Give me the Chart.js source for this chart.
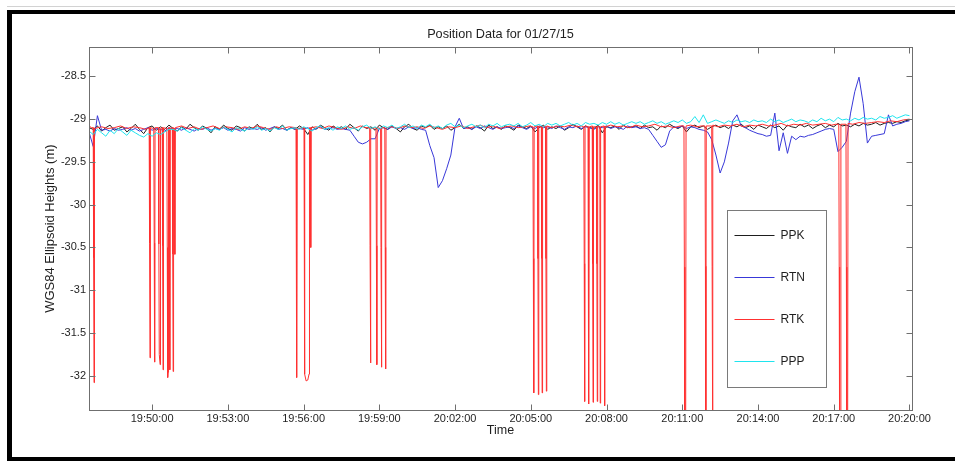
<!DOCTYPE html>
<html>
<head>
<meta charset="utf-8">
<script src="https://cdn.jsdelivr.net/npm/chart.js@4.4.1/dist/chart.umd.min.js"></script>
<style>
html,body{margin:0;padding:0;background:#fff;overflow:hidden}
#wrap{width:955px;height:461px;position:relative}
</style>
</head>
<body>
<div id="wrap"><canvas id="c"></canvas></div>
<script>
const chartTitle = 'Position Data for 01/27/15';
const xAxisTitle = 'Time';
const yAxisTitle = 'WGS84 Ellipsoid Heights (m)';
const seriesNames = ['PPK', 'RTN', 'RTK', 'PPP'];

// x ticks (seconds after midnight) and their labels
const xTickValues = [71400, 71580, 71760, 71940, 72120, 72300, 72480, 72660, 72840, 73020, 73200];
const xTickLabels = ['19:50:00','19:53:00','19:56:00','19:59:00','20:02:00','20:05:00','20:08:00','20:11:00','20:14:00','20:17:00','20:20:00'];
const yTickValues = [-32, -31.5, -31, -30.5, -30, -29.5, -29, -28.5];
const yTickLabels = ['-32','-31.5','-31','-30.5','-30','-29.5','-29','-28.5'];

// PPK / RTN / PPP sampled every 10 s starting 19:47:30 (71250 s after midnight)
const sampleStart = 71250;
const sampleStep = 10;

const ppkHeights = [
-29.10,-29.12,-29.08,-29.14,-29.10,-29.07,-29.13,-29.11,-29.09,-29.15,
-29.11,-29.06,-29.12,-29.17,-29.10,-29.08,-29.13,-29.09,-29.12,-29.07,
-29.11,-29.14,-29.09,-29.12,-29.06,-29.10,-29.13,-29.08,-29.11,-29.16,
-29.09,-29.12,-29.07,-29.11,-29.13,-29.08,-29.10,-29.14,-29.09,-29.11,
-29.06,-29.12,-29.10,-29.15,-29.09,-29.11,-29.07,-29.13,-29.10,-29.12,
-29.08,-29.11,-29.18,-29.09,-29.12,-29.07,-29.10,-29.13,-29.08,-29.11,
-29.09,-29.12,-29.06,-29.10,-29.14,-29.08,-29.11,-29.09,-29.13,-29.07,
-29.10,-29.12,-29.08,-29.11,-29.15,-29.09,-29.06,-29.11,-29.13,-29.08,
-29.10,-29.07,-29.12,-29.09,-29.11,-29.08,-29.13,-29.10,-29.06,-29.11,
-29.09,-29.12,-29.08,-29.10,-29.14,-29.07,-29.11,-29.09,-29.12,-29.08,
-29.10,-29.13,-29.07,-29.09,-29.11,-29.08,-29.15,-29.10,-29.07,-29.12,
-29.09,-29.11,-29.08,-29.13,-29.10,-29.06,-29.09,-29.12,-29.08,-29.10,
-29.11,-29.07,-29.16,-29.09,-29.10,-29.08,-29.12,-29.07,-29.10,-29.09,
-29.08,-29.11,-29.07,-29.10,-29.09,-29.13,-29.08,-29.10,-29.06,-29.09,
-29.11,-29.08,-29.15,-29.09,-29.07,-29.10,-29.08,-29.12,-29.09,-29.07,
-29.10,-29.08,-29.11,-29.07,-29.09,-29.06,-29.10,-29.08,-29.12,-29.07,
-29.09,-29.11,-29.07,-29.10,-29.08,-29.13,-29.07,-29.09,-29.10,-29.06,
-29.09,-29.07,-29.11,-29.08,-29.06,-29.10,-29.07,-29.09,-29.05,-29.08,
-29.07,-29.09,-29.06,-29.08,-29.05,-29.07,-29.06,-29.04,-29.07,-29.05,
-29.04,-29.05,-29.03,-29.04,-29.02,-29.01
];

const rtnHeights = [
-29.15,-29.32,-28.96,-29.13,-29.12,-29.14,-29.11,-29.13,-29.12,-29.10,
-29.13,-29.11,-29.14,-29.12,-29.10,-29.13,-29.11,-29.12,-29.14,-29.10,
-29.12,-29.11,-29.13,-29.10,-29.12,-29.14,-29.11,-29.12,-29.10,-29.13,
-29.11,-29.12,-29.10,-29.13,-29.11,-29.12,-29.14,-29.10,-29.12,-29.11,
-29.12,-29.10,-29.13,-29.11,-29.09,-29.12,-29.11,-29.13,-29.10,-29.12,
-29.11,-29.12,-29.10,-29.13,-29.11,-29.09,-29.12,-29.11,-29.10,-29.12,
-29.11,-29.12,-29.13,-29.20,-29.27,-29.29,-29.27,-29.23,-29.23,-29.11,
-29.10,-29.12,-29.09,-29.11,-29.10,-29.12,-29.09,-29.11,-29.10,-29.12,
-29.13,-29.31,-29.45,-29.80,-29.72,-29.58,-29.42,-29.09,-28.99,-29.11,
-29.10,-29.12,-29.09,-29.11,-29.08,-29.10,-29.12,-29.09,-29.11,-29.10,
-29.09,-29.11,-29.08,-29.10,-29.12,-29.09,-29.11,-29.08,-29.10,-29.09,
-29.11,-29.08,-29.10,-29.12,-29.09,-29.10,-29.08,-29.11,-29.09,-29.10,
-29.12,-29.09,-29.10,-29.08,-29.11,-29.09,-29.10,-29.12,-29.08,-29.10,
-29.09,-29.11,-29.10,-29.12,-29.19,-29.26,-29.33,-29.30,-29.14,-29.09,
-29.10,-29.08,-29.11,-29.09,-29.10,-29.12,-29.13,-29.15,-29.24,-29.42,
-29.63,-29.50,-29.28,-29.02,-28.95,-29.08,-29.10,-29.13,-29.15,-29.17,
-29.18,-29.20,-29.19,-28.93,-29.37,-29.16,-29.40,-29.20,-29.24,-29.20,
-29.21,-29.19,-29.18,-29.16,-29.14,-29.12,-29.11,-29.12,-29.38,-29.33,
-29.26,-28.93,-28.68,-28.51,-28.82,-29.28,-29.20,-29.19,-29.18,-29.17,
-28.95,-29.08,-29.06,-29.05,-29.03,-29.02
];

const pppHeights = [
-29.14,-29.18,-29.12,-29.16,-29.20,-29.13,-29.17,-29.11,-29.15,-29.19,
-29.13,-29.16,-29.19,-29.21,-29.17,-29.20,-29.16,-29.18,-29.15,-29.12,
-29.12,-29.14,-29.10,-29.13,-29.16,-29.11,-29.13,-29.09,-29.12,-29.14,
-29.11,-29.13,-29.09,-29.12,-29.15,-29.10,-29.12,-29.14,-29.10,-29.12,
-29.09,-29.13,-29.11,-29.14,-29.10,-29.12,-29.08,-29.13,-29.11,-29.10,
-29.12,-29.09,-29.11,-29.14,-29.10,-29.08,-29.12,-29.10,-29.13,-29.09,
-29.11,-29.08,-29.12,-29.10,-29.13,-29.09,-29.07,-29.11,-29.09,-29.12,
-29.08,-29.10,-29.07,-29.11,-29.09,-29.06,-29.10,-29.08,-29.11,-29.07,
-29.09,-29.06,-29.10,-29.08,-29.11,-29.07,-29.05,-29.09,-29.07,-29.10,
-29.08,-29.06,-29.09,-29.07,-29.10,-29.06,-29.08,-29.05,-29.09,-29.07,
-29.06,-29.08,-29.05,-29.09,-29.07,-29.04,-29.08,-29.06,-29.09,-29.05,
-29.07,-29.05,-29.08,-29.06,-29.04,-29.07,-29.05,-29.08,-29.04,-29.06,
-29.05,-29.07,-29.04,-29.06,-29.03,-29.06,-29.04,-29.07,-29.05,-29.03,
-29.05,-29.03,-29.06,-29.04,-29.02,-29.05,-29.03,-29.06,-29.04,-29.02,
-29.04,-29.01,-29.05,-29.03,-28.97,-29.04,-28.95,-29.05,-29.03,-29.01,
-29.03,-29.05,-29.02,-29.04,-29.01,-29.03,-29.02,-29.04,-29.01,-29.03,
-29.02,-29.04,-29.00,-29.03,-29.01,-29.04,-29.02,-29.00,-29.03,-29.01,
-29.02,-29.04,-29.01,-29.03,-28.99,-29.02,-29.00,-29.03,-28.98,-29.01,
-29.00,-29.02,-28.99,-29.01,-28.98,-29.00,-28.99,-29.01,-28.97,-28.99,
-28.98,-28.96,-28.99,-28.97,-28.95,-28.96
];

// RTK: irregular epochs (seconds after midnight) including the fix-loss drops
const rtkTimes = [
71250,71256,71260,71261,71262,71263,71280,71295,71310,71325,71340,71355,71370,71385,
71393,71394,71395,71396, 71404,71405,71406,71407, 71415,71416,71417,71419,71420,
71424,71425,71426,71427, 71435,71436,71437,71438,71439, 71441,71442,71443,
71448,71449,71450,71451, 71453,71454,71455,
71470,71485,71500,71515,71530,71545,71560,71575,71590,71605,71620,71635,71650,71665,71680,71695,71710,71725,
71742,71743,71744,71745, 71761,71762,71763,71766,71770,71773,71774, 71776,71777,71778,
71790,71805,71820,71835,71850,71865,71880,71895,71908,
71917,71918,71919,71920, 71932,71933,71934,71935, 71943,71944,71945,71946, 71953,71954,71955,71956,
71970,71985,72000,72015,72030,72045,72060,72075,72090,72105,72120,72135,72150,72165,72180,72195,72210,72225,72240,72255,72270,72285,72297,
72305,72306,72307,72308, 72316,72317,72318,72319, 72325,72326,72327,72328, 72335,72336,72337,72338,
72350,72365,72380,72395,72410,72420,
72426,72427,72428,72429, 72436,72437,72438,72439, 72446,72447,72448,72449, 72456,72457,72458,72459,
72464,72465,72466, 72474,72475,72476,72477,
72490,72505,72520,72535,72550,72565,72580,72595,72610,72625,72640,72655,
72664,72665,72666,72668,72669,
72680,72695,72705,
72714,72715,72716,72717, 72730,72731,72732,72733,
72745,72760,72775,72790,72805,72820,72835,72850,72865,72880,72895,72910,72925,72940,72955,72970,72985,73000,73015,73025,
73032,73033,73034,73036,73037, 73049,73050,73051,73053,73054,
73065,73080,73095,73110,73125,73140,73155,73170,73185,73200
];
const rtkHeights = [
-29.08,-29.10,-29.10,-30.62,-32.08,-29.11,-29.09,-29.11,-29.10,-29.08,-29.11,-29.09,-29.10,-29.12,
-29.10,-30.45,-31.79,-29.10, -29.11,-30.45,-31.84,-29.10, -29.10,-30.46,-31.75,-31.87,-29.11,
-29.10,-30.48,-31.93,-29.10, -29.11,-30.50,-32.02,-31.96,-29.10, -29.10,-31.93,-29.11,
-29.10,-30.58,-31.95,-29.10, -29.11,-30.58,-29.10,
-29.08,-29.11,-29.09,-29.12,-29.10,-29.08,-29.11,-29.09,-29.10,-29.12,-29.09,-29.11,-29.08,-29.10,-29.12,-29.09,-29.11,-29.09,
-29.10,-30.52,-32.02,-29.11, -29.10,-30.50,-31.98,-32.06,-32.05,-31.98,-29.10, -29.10,-30.50,-29.10,
-29.09,-29.11,-29.08,-29.10,-29.12,-29.09,-29.11,-29.08,-29.10,
-29.10,-30.48,-31.85,-29.11, -29.10,-30.48,-31.87,-29.10, -29.11,-30.50,-31.90,-29.10, -29.10,-30.50,-31.92,-29.10,
-29.09,-29.11,-29.08,-29.10,-29.09,-29.11,-29.08,-29.10,-29.12,-29.09,-29.10,-29.08,-29.11,-29.09,-29.07,-29.10,-29.08,-29.11,-29.09,-29.08,-29.10,-29.09,-29.08,
-29.09,-30.63,-32.20,-29.09, -29.08,-30.63,-32.22,-29.09, -29.09,-30.63,-32.20,-29.08, -29.09,-30.63,-32.18,-29.08,
-29.10,-29.08,-29.09,-29.07,-29.09,-29.08,
-29.09,-30.69,-32.30,-29.08, -29.09,-30.69,-32.33,-29.09, -29.08,-30.69,-32.31,-29.09, -29.09,-30.69,-32.30,-29.08,
-29.09,-32.32,-29.09, -29.08,-30.70,-32.35,-29.09,
-29.07,-29.09,-29.08,-29.10,-29.07,-29.09,-29.08,-29.06,-29.09,-29.08,-29.10,-29.08,
-29.08,-30.73,-33.00,-33.00,-29.08,
-29.07,-29.09,-29.08,
-29.08,-30.72,-33.00,-29.08, -29.08,-30.72,-33.00,-29.07,
-29.09,-29.07,-29.08,-29.06,-29.09,-29.07,-29.08,-29.06,-29.08,-29.07,-29.05,-29.08,-29.06,-29.07,-29.05,-29.07,-29.06,-29.05,-29.07,-29.06,
-29.06,-30.73,-33.00,-33.00,-29.06, -29.06,-30.73,-33.00,-33.00,-29.05,
-29.06,-29.04,-29.05,-29.04,-29.03,-29.04,-29.02,-29.03,-29.01,-29.00
];

const seriesColors = ['#1e1e1e', '#3838d8', '#ff3030', '#1fe4ee'];

const sampleTimes = ppkHeights.map((_, i) => sampleStart + i * sampleStep);
const toPoints = (times, vals) => vals.map((v, i) => ({x: times[i], y: v}));

const seriesData = [
  toPoints(sampleTimes, ppkHeights),
  toPoints(sampleTimes, rtnHeights),
  toPoints(rtkTimes, rtkHeights),
  toPoints(sampleTimes, pppHeights)
];
const drawOrder = [4, 3, 2, 1];

const FONT = "'Liberation Sans', Arial, Helvetica, sans-serif";
const TEXT = '#1f1f1f';
const AXIS = '#6f6f6f';

const framePlugin = {
  id: 'matlabFrame',
  beforeDraw(chart) {
    const ctx = chart.ctx, W = chart.width, H = chart.height;
    ctx.save();
    ctx.fillStyle = '#ffffff';
    ctx.fillRect(0, 0, W, H);
    ctx.fillStyle = '#d2d2d2';
    ctx.fillRect(7, 6, W - 7, 1);
    ctx.fillStyle = '#000000';
    ctx.fillRect(7, 10, W - 7, 4);
    ctx.fillRect(7, 10, 5, H - 10);
    ctx.fillRect(7, H - 4, W - 7, 4);
    ctx.restore();
  },
  afterDatasetsDraw(chart) {
    const {ctx, chartArea: a, scales: {x, y}} = chart;
    const L = Math.round(a.left) + 0.5, R = Math.round(a.right) + 0.5;
    const T = Math.round(a.top) + 0.5, B = Math.round(a.bottom) + 0.5;
    ctx.save();
    ctx.strokeStyle = AXIS;
    ctx.lineWidth = 1;
    ctx.strokeRect(L, T, R - L, B - T);
    ctx.beginPath();
    x.ticks.forEach(t => {
      const px = Math.round(x.getPixelForValue(t.value)) + 0.5;
      ctx.moveTo(px, B); ctx.lineTo(px, B - 6);
      ctx.moveTo(px, T); ctx.lineTo(px, T + 6);
    });
    y.ticks.forEach(t => {
      const py = Math.round(y.getPixelForValue(t.value)) + 0.5;
      ctx.moveTo(L, py); ctx.lineTo(L + 6, py);
      ctx.moveTo(R, py); ctx.lineTo(R - 6, py);
    });
    ctx.stroke();

    // legend box inside the axes
    const lw = 99, lh = 177;
    const lx = Math.round(a.right) - 185 + 0.5, ly = Math.round(a.top) + 163 + 0.5;
    ctx.fillStyle = '#ffffff';
    ctx.fillRect(lx, ly, lw, lh);
    ctx.strokeStyle = '#7a7a7a';
    ctx.strokeRect(lx, ly, lw, lh);
    ctx.font = '12px ' + FONT;
    ctx.textBaseline = 'middle';
    ctx.textAlign = 'left';
    seriesNames.forEach((name, i) => {
      const yy = Math.floor(ly + 25 + i * 42) + 0.5;
      ctx.beginPath();
      ctx.strokeStyle = seriesColors[i];
      ctx.lineWidth = 1;
      ctx.moveTo(lx + 7, yy);
      ctx.lineTo(lx + 47, yy);
      ctx.stroke();
      ctx.fillStyle = TEXT;
      ctx.fillText(name, lx + 53, yy);
    });
    ctx.restore();
  }
};

new Chart(document.getElementById('c'), {
  type: 'line',
  data: {
    datasets: seriesNames.map((name, i) => ({
      label: name,
      data: seriesData[i],
      borderColor: seriesColors[i],
      backgroundColor: seriesColors[i],
      borderWidth: 1,
      pointRadius: 0,
      tension: 0,
      fill: false,
      order: drawOrder[i]
    }))
  },
  options: {
    responsive: true,
    maintainAspectRatio: false,
    animation: false,
    events: [],
    layout: {padding: {left: 36, right: 43, top: 0, bottom: 21}},
    plugins: {
      legend: {display: false},
      tooltip: {enabled: false},
      title: {
        display: true,
        text: chartTitle,
        fullSize: false,
        color: TEXT,
        font: {family: FONT, size: 12.7, weight: 'normal', lineHeight: 1.2},
        padding: {top: 27, bottom: 5}
      }
    },
    scales: {
      x: {
        type: 'linear',
        min: 71250,
        max: 73206,
        afterBuildTicks: s => { s.ticks = xTickValues.map(v => ({value: v})); },
        afterFit: s => { s.height = 30; },
        grid: {display: false, drawTicks: false, tickLength: 0},
        border: {display: false},
        ticks: {
          autoSkip: false,
          maxRotation: 0,
          padding: 2,
          color: TEXT,
          font: {family: FONT, size: 11},
          callback: v => xTickLabels[xTickValues.indexOf(v)]
        },
        title: {
          display: true,
          text: xAxisTitle,
          color: TEXT,
          font: {family: FONT, size: 12.5, lineHeight: 1.2},
          padding: {top: 0, bottom: 2}
        }
      },
      y: {
        type: 'linear',
        min: -32.4,
        max: -28.16,
        afterBuildTicks: s => { s.ticks = yTickValues.map(v => ({value: v})); },
        afterFit: s => { s.width = 53; },
        grid: {display: false, drawTicks: false, tickLength: 0},
        border: {display: false},
        ticks: {
          padding: 3,
          color: TEXT,
          font: {family: FONT, size: 11},
          callback: v => yTickLabels[yTickValues.indexOf(v)]
        },
        title: {
          display: true,
          text: yAxisTitle,
          color: TEXT,
          font: {family: FONT, size: 13, lineHeight: 1.2},
          padding: {top: 7, bottom: 0}
        }
      }
    }
  },
  plugins: [framePlugin]
});
</script>
</body>
</html>
